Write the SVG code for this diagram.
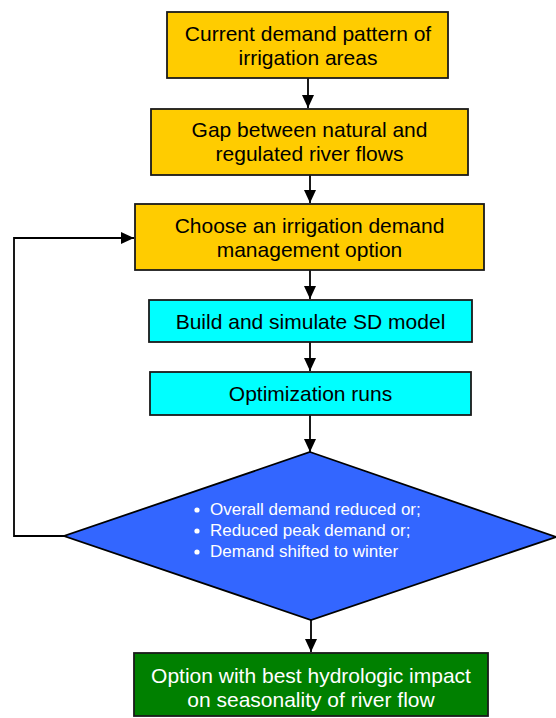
<svg xmlns="http://www.w3.org/2000/svg" width="556" height="718" viewBox="0 0 556 718">
<defs>
<marker id="ah" markerWidth="13" markerHeight="12" refX="13" refY="6" orient="auto" markerUnits="userSpaceOnUse"><path d="M0,0 L13,6 L0,12 z" fill="#000"/></marker>
<style>
.box{stroke:#1a1a1a;stroke-width:1.8}
.y{fill:#FFCC00}.c{fill:#00FFFF}.g{fill:#008000}
.t{font-family:"Liberation Sans",Arial,sans-serif;font-size:21px;fill:#000;text-anchor:middle}
.w{fill:#fff}
.d{font-family:"Liberation Sans",Arial,sans-serif;font-size:17px;fill:#fff}
.con{fill:none;stroke:#000;stroke-width:1.8}
</style>
</defs>
<rect width="556" height="718" fill="#fff"/>
<g id="connectors">
<line class="con" x1="308" y1="78" x2="308" y2="108" marker-end="url(#ah)"/>
<line class="con" x1="310" y1="175" x2="310" y2="203" marker-end="url(#ah)"/>
<line class="con" x1="310" y1="270" x2="310" y2="299" marker-end="url(#ah)"/>
<line class="con" x1="310" y1="342" x2="310" y2="371" marker-end="url(#ah)"/>
<line class="con" x1="310" y1="415" x2="310" y2="452" marker-end="url(#ah)"/>
<line class="con" x1="311" y1="620" x2="311" y2="652" marker-end="url(#ah)"/>
<polyline class="con" points="64,536 14,536 14,238 134,238" marker-end="url(#ah)"/>
</g>
<g id="n1"><rect class="box y" x="167" y="12" width="281" height="66"/>
<text class="t" x="308" y="41">Current demand pattern of</text>
<text class="t" x="308" y="65">irrigation areas</text></g>
<g id="n2"><rect class="box y" x="151" y="109" width="317" height="66"/>
<text class="t" x="309.5" y="137">Gap between natural and</text>
<text class="t" x="309.5" y="161">regulated river flows</text></g>
<g id="n3"><rect class="box y" x="135" y="204" width="349" height="66"/>
<text class="t" x="309.5" y="233">Choose an irrigation demand</text>
<text class="t" x="309.5" y="257">management option</text></g>
<g id="n4"><rect class="box c" x="149" y="300" width="323" height="42"/>
<text class="t" x="310.5" y="329">Build and simulate SD model</text></g>
<g id="n5"><rect class="box c" x="150" y="372" width="321" height="43"/>
<text class="t" x="310.5" y="401">Optimization runs</text></g>
<g id="n6"><polygon points="310,452 556,537 311,620 64,536" fill="#3366FF" stroke="#000" stroke-width="1.8"/>
<circle cx="197" cy="510" r="2.6" fill="#fff"/>
<circle cx="197" cy="531" r="2.6" fill="#fff"/>
<circle cx="197" cy="552" r="2.6" fill="#fff"/>
<text class="d" x="210" y="515">Overall demand reduced or;</text>
<text class="d" x="210" y="536">Reduced peak demand or;</text>
<text class="d" x="210" y="557">Demand shifted to winter</text></g>
<g id="n7"><rect class="box g" x="134" y="653" width="354" height="63"/>
<text class="t w" x="311" y="683">Option with best hydrologic impact</text>
<text class="t w" x="311" y="707">on seasonality of river flow</text></g>
</svg>
